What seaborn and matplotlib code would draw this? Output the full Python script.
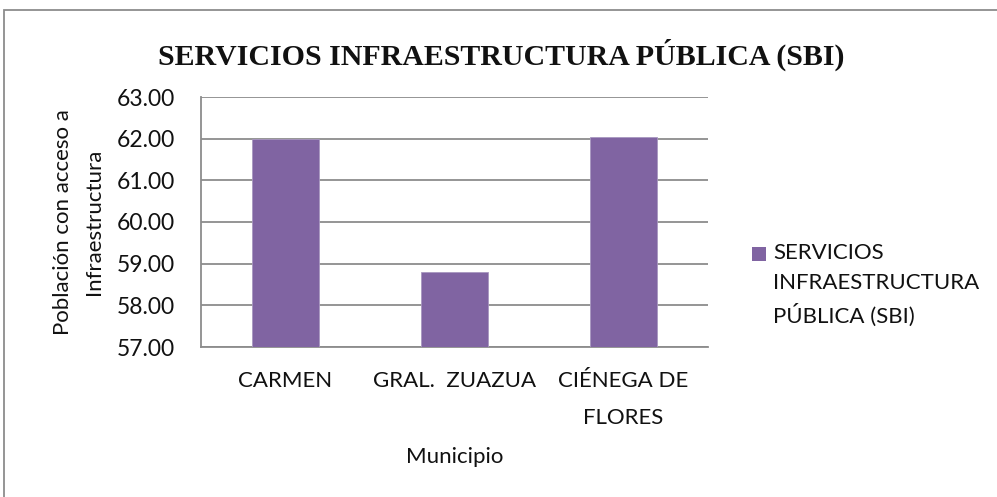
import matplotlib.pyplot as plt
import matplotlib.patches as mpatches
import seaborn as sns
import pandas as pd

# data
municipios = ["CARMEN", "GRAL.  ZUAZUA", "CIÉNEGA DE\nFLORES"]
sbi_values = [62.00, 58.80, 62.04]
y_ticks = [57, 58, 59, 60, 61, 62, 63]
serie = "SERVICIOS\nINFRAESTRUCTURA\nPÚBLICA (SBI)"

BAR_COLOR = "#8064A2"
GRID_COLOR = "#8C8C8C"
FS = 16

sns.set_theme(style="white")
plt.rcParams["font.family"] = ["Lato", "DejaVu Sans"]

df = pd.DataFrame({"Municipio": municipios, "SBI": sbi_values})

fig = plt.figure(figsize=(9.97, 4.97), dpi=100)
ax = fig.add_axes([201 / 997, 1 - 347 / 497, 507 / 997, 250 / 497])

sns.barplot(data=df, x="Municipio", y="SBI", color=BAR_COLOR, width=0.4,
            saturation=1, edgecolor="#A897C0", linewidth=0.6, ax=ax, zorder=3)

ax.set_ylim(57, 63)
ax.set_xlim(-0.5, 2.5)
ax.set_yticks(y_ticks)
ax.set_yticklabels([f"{v:.2f}" for v in y_ticks], fontsize=16.5,
                   color="#111111")
ax.tick_params(axis="y", length=3, width=1.2, color=GRID_COLOR, pad=16)
ax.tick_params(axis="x", length=0, pad=17)
for lbl in ax.get_xticklabels():
    lbl.set_fontsize(FS)
    lbl.set_color("#111111")
    lbl.set_linespacing(2.08)
ax.yaxis.grid(True, color=GRID_COLOR, linewidth=1.3, zorder=0)
ax.set_axisbelow(True)

for side in ["top", "right"]:
    ax.spines[side].set_visible(False)
for side in ["left", "bottom"]:
    ax.spines[side].set_color(GRID_COLOR)
    ax.spines[side].set_linewidth(1.3)

ax.set_xlabel("Municipio", fontsize=FS, labelpad=13.5, color="#111111")
ax.set_ylabel("Población con acceso a\nInfraestructura", fontsize=FS,
              labelpad=9, linespacing=1.65, color="#111111")

fig.text(0.503, 1 - 55 / 497, "SERVICIOS INFRAESTRUCTURA PÚBLICA (SBI)",
         family=["Liberation Serif", "DejaVu Serif"], fontweight="bold",
         fontsize=21.5, ha="center", va="center", color="#111111")

# legend: swatch aligned with first line of the label, as in the original
fig.add_artist(mpatches.Rectangle((752 / 997, 1 - 261 / 497), 14 / 997, 14 / 497,
                                  transform=fig.transFigure,
                                  facecolor=BAR_COLOR, edgecolor="none"))
fig.text(773 / 997, 1 - 243 / 497, serie, fontsize=FS, ha="left", va="top",
         linespacing=1.6, color="#111111")

# outer chart border (only top and left edges lie inside the picture)
fig.add_artist(mpatches.Rectangle((4 / 997, -0.1), 1.1, 1 - 10 / 497 + 0.1,
                                  transform=fig.transFigure, fill=False,
                                  edgecolor="#8C8C8C", linewidth=1.3))

fig.savefig("out.png", dpi=100)
